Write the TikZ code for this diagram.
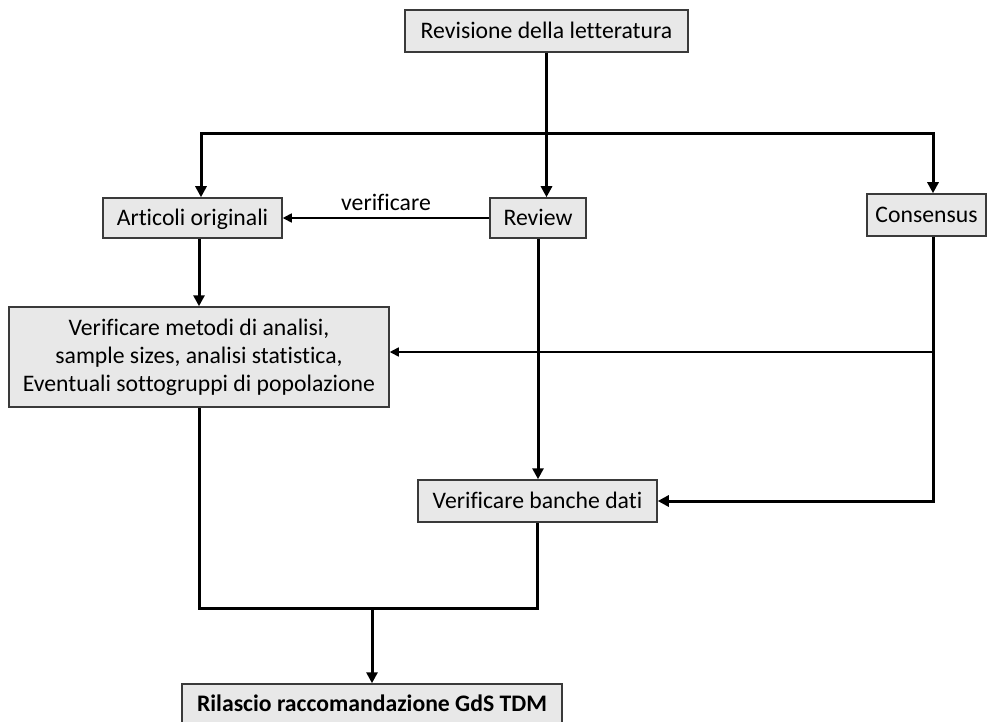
\documentclass[tikz,border=0pt]{standalone}
\usepackage{fontspec}
\setmainfont[Ligatures=NoCommon]{Carlito}
\usetikzlibrary{arrows.meta}
\definecolor{boxfill}{HTML}{E8E8E8}
\definecolor{boxline}{HTML}{3A3A3A}
\tikzset{
  box/.style={draw=boxline, line width=1.5pt, fill=boxfill, inner sep=0pt,
    font=\fontsize{23.7}{28}\selectfont, align=center},
  onel/.style={text height=18pt, text depth=3pt},
  bold/.style={line width=3pt, -{Triangle[length=11pt,width=11pt]}},
  boldnt/.style={line width=3pt},
  thinarr/.style={line width=1.6pt, -{Triangle[length=9pt,width=9pt]}},
}
\begin{document}
\begin{tikzpicture}[x=1pt,y=-1pt]
\useasboundingbox (0,0) rectangle (987,722);
\clip (0,0) rectangle (987,722);
\node[box, onel, minimum width=283pt, minimum height=42pt] (top) at (546.5,31) {Revisione della letteratura};
\node[box, onel, minimum width=179pt, minimum height=40pt] (art) at (192.5,218) {Articoli originali};
\node[box, onel, minimum width=96pt, minimum height=40pt] (rev) at (538,218) {Review};
\node[box, onel, minimum width=119pt, minimum height=42pt] (cons) at (926.5,215) {Consensus};
\node[box, minimum width=380pt, minimum height=100pt] (big) at (199,357) {Verificare metodi di analisi,\\sample sizes, analisi statistica,\\Eventuali sottogruppi di popolazione};
\node[box, onel, minimum width=239pt, minimum height=42pt] (ban) at (537.5,501) {Verificare banche dati};
\node[box, onel, minimum width=380pt, minimum height=56pt] (bot) at (372,712) {\raisebox{8pt}{\bfseries Rilascio raccomandazione GdS TDM}};
\coordinate (busL) at (201,134);
\coordinate (busR) at (933,134);
\coordinate (mid) at (933,352);
\coordinate (j) at (372,608);
% top to review
\draw[bold] (top.south) -- (top.south |- rev.north);
% bus
\draw[line width=3pt, {Triangle[length=11pt,width=11pt]}-{Triangle[length=11pt,width=11pt]}, line join=miter]
  (busL |- art.north) -- (busL) -- (busR) -- (busR |- cons.north);
% verificare
\draw[thinarr] (rev.west) -- node[above=3pt, font=\fontsize{23.7}{28}\selectfont] (lab) {verificare} (art.east);
% articoli to big
\draw[bold] (art.south -| big.north) -- (big.north);
% consensus down to banche
\draw[bold, line join=miter] (cons.south -| busR) -- (busR |- ban.east) -- (ban.east);
\draw[thinarr] (mid) -- (mid -| big.east);
% review to banche
\draw[bold] (rev.south) -- (rev.south |- ban.north);
% merge
\draw[boldnt, line join=miter] (big.south) -- (big.south |- j) -- (ban.south |- j) -- (ban.south);
\draw[bold] (j) -- (j |- bot.north);
\end{tikzpicture}
\end{document}
